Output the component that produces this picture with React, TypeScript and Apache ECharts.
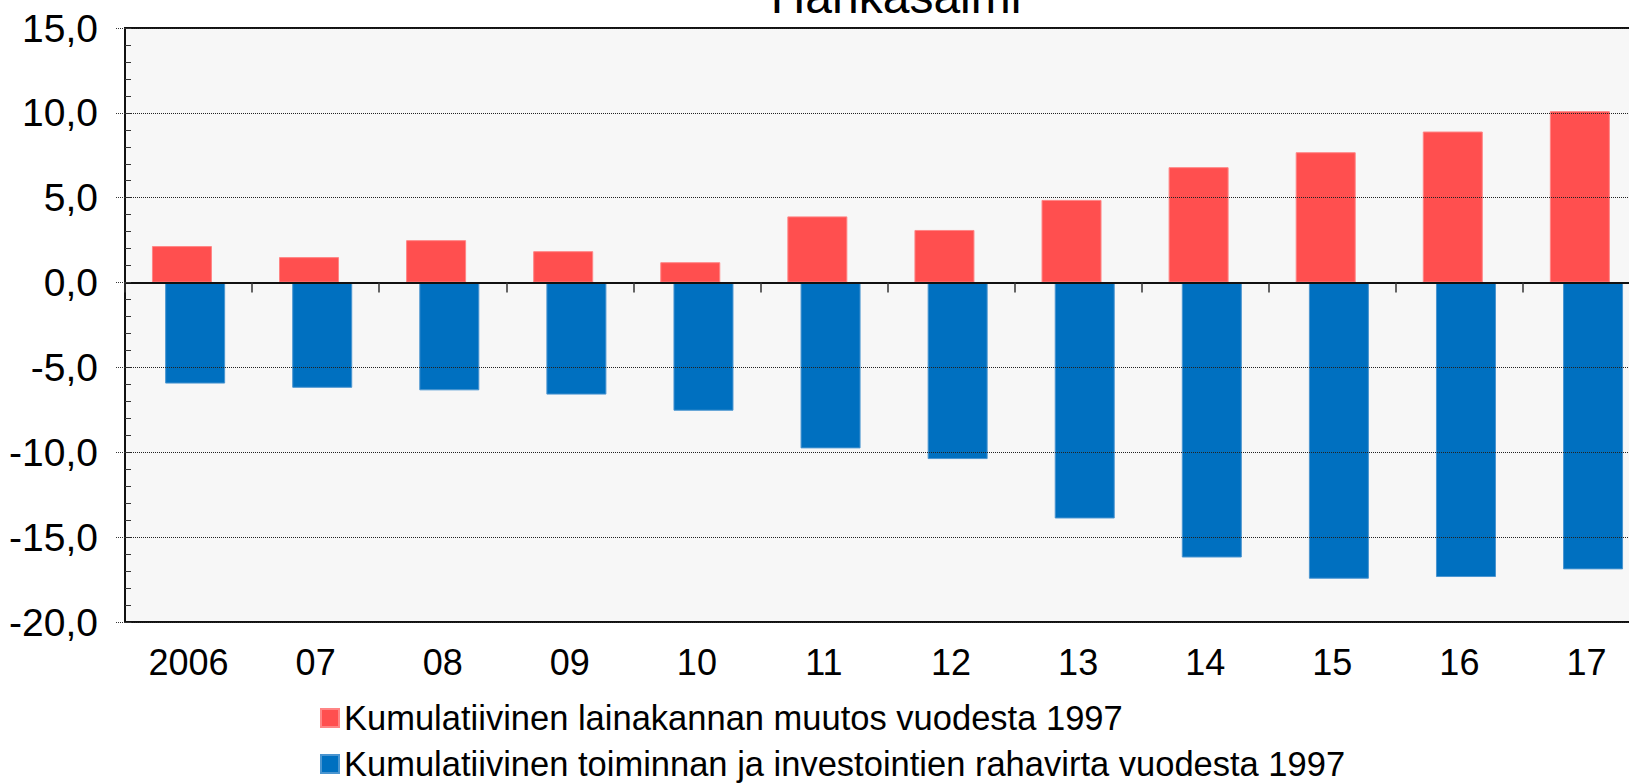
import React, { useEffect, useRef } from "react";
import * as echarts from "echarts";

const TITLE = "Hankasalmi";
const categories = ["2006", "07", "08", "09", "10", "11", "12", "13", "14", "15", "16", "17"];
const loanChange = [2.15, 1.5, 2.5, 1.85, 1.2, 3.9, 3.1, 4.87, 6.8, 7.68, 8.9, 10.1];
const cashFlow = [-5.95, -6.2, -6.35, -6.6, -7.55, -9.77, -10.4, -13.9, -16.2, -17.45, -17.35, -16.9];
const seriesNames = [
  "Kumulatiivinen lainakannan muutos vuodesta 1997",
  "Kumulatiivinen toiminnan ja investointien rahavirta vuodesta 1997",
];
const yMin = -20;
const yMax = 15;
const yStep = 5;

const FONT = "'Liberation Sans', Arial, sans-serif";

export default function App() {
  const ref = useRef<HTMLDivElement>(null);
  useEffect(() => {
    if (!ref.current) return;
    const chart = echarts.init(ref.current, undefined, { renderer: "svg" });
    const grid = { left: 125, top: 28, width: 1525, height: 594 };
    chart.setOption({
      animation: false,
      backgroundColor: "#ffffff",
      textStyle: { fontFamily: FONT },
      graphic: [
        {
          type: "text",
          x: 896,
          y: -3.8,
          style: {
            text: TITLE,
            font: `48px ${FONT}`,
            fill: "#000",
            textAlign: "center",
            textVerticalAlign: "middle",
          },
        },
      ],
      grid: {
        ...grid,
        show: true,
        backgroundColor: "#F7F7F7",
        borderColor: "#111",
        borderWidth: 2,
      },
      legend: {
        orient: "vertical",
        left: 320,
        top: 700,
        height: 200,
        padding: 0,
        itemWidth: 18,
        itemHeight: 18,
        itemGap: 10,
        icon: "rect",
        textStyle: { fontSize: 34.5, fontFamily: FONT, color: "#000", lineHeight: 36 },
        data: seriesNames,
      },
      xAxis: [
        {
          type: "category",
          data: categories,
          position: "bottom",
          axisLine: { show: false, onZero: false },
          axisTick: { show: false },
          axisLabel: { fontSize: 36, fontFamily: FONT, color: "#000", margin: 22 },
          splitLine: { show: false },
        },
        {
          type: "category",
          data: categories,
          position: "bottom",
          z: 10,
          axisLine: { show: true, onZero: true, lineStyle: { color: "#111", width: 2 } },
          axisTick: { show: true, inside: false, length: 10, lineStyle: { color: "#333", width: 1.5 } },
          axisLabel: { show: false },
          splitLine: { show: false },
        },
      ],
      yAxis: [
        {
          type: "value",
          min: yMin,
          max: yMax,
          interval: yStep,
          position: "left",
          z: 10,
          axisLine: { show: true, lineStyle: { color: "#111", width: 2 } },
          axisTick: { show: true, inside: false, length: 9, lineStyle: { color: "#333", width: 1, type: "dotted" } },
          axisLabel: {
            fontSize: 39,
            fontFamily: FONT,
            color: "#000",
            margin: 27,
            formatter: (v: number) => v.toFixed(1).replace(".", ","),
          },
          splitLine: { show: true, lineStyle: { color: "#222", width: 1, type: "dotted" } },
        },
        {
          type: "value",
          min: yMin,
          max: yMax,
          interval: 1,
          position: "left",
          z: 10,
          axisLine: { show: false },
          axisTick: { show: true, inside: true, length: 6, lineStyle: { color: "#333", width: 1 } },
          axisLabel: { show: false },
          splitLine: { show: false },
        },
      ],
      series: [
        {
          name: seriesNames[0],
          type: "bar",
          xAxisIndex: 0,
          yAxisIndex: 0,
          data: loanChange,
          barWidth: 60,
          barGap: "-78%",
          itemStyle: { color: "#FF4F4F", borderColor: "#FF8585", borderWidth: 1 },
        },
        {
          name: seriesNames[1],
          type: "bar",
          xAxisIndex: 0,
          yAxisIndex: 0,
          data: cashFlow,
          barWidth: 60,
          barGap: "-78%",
          itemStyle: { color: "#0070C0", borderColor: "#4A95D0", borderWidth: 1 },
        },
      ],
    });
    return () => chart.dispose();
  }, []);
  return (
    <div style={{ position: "absolute", left: 0, top: 0, width: 1629, height: 783, overflow: "hidden" }}>
      <div ref={ref} style={{ position: "absolute", left: 0, top: 0, width: 1680, height: 783 }} />
    </div>
  );
}
